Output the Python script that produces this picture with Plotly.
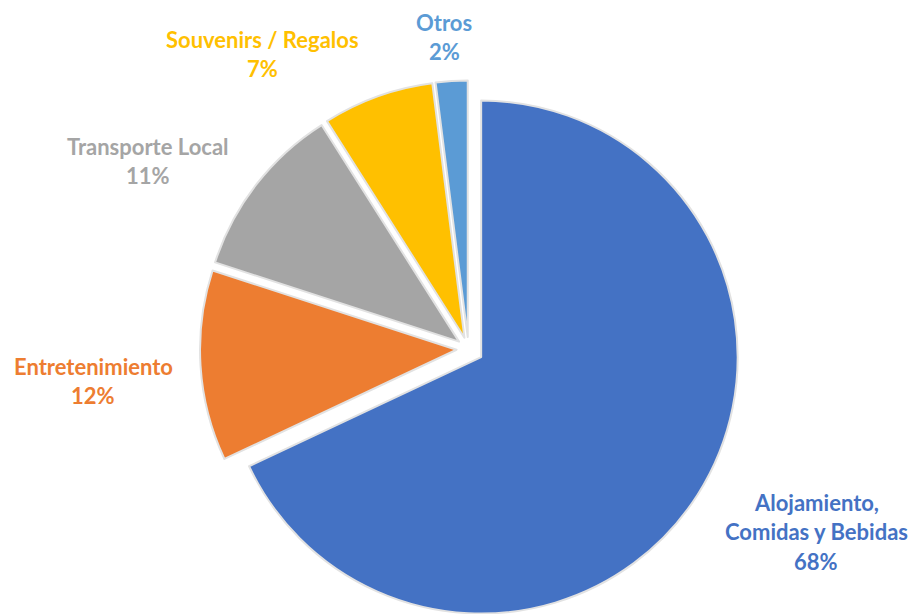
import math
import plotly.graph_objects as go

# Gasto del visitante por rubro (%)
categories = ["Alojamiento, Comidas y Bebidas", "Entretenimiento", "Transporte Local",
              "Souvenirs / Regalos", "Otros"]
values = [68, 12, 11, 7, 2]
label_lines = [["Alojamiento,", "Comidas y Bebidas"], ["Entretenimiento"], ["Transporte Local"],
               ["Souvenirs / Regalos"], ["Otros"]]
colors = ["#4472C4", "#ED7D31", "#A5A5A5", "#FFC000", "#5B9BD5"]

W, H = 912, 614
R = 256.5                # pie radius in px
BASE = (468.5, 349.0)    # common pie centre in px
explode = [15, 12, 12, 12, 12]   # per-slice pull-out distance in px

# label anchor points (px): first line centre and line pitch
label_pos = [(816, 502), (93, 366), (148, 146), (262, 39), (444, 22)]
LINE = 29.5

fig = go.Figure()
total = sum(values)
cum = 0.0
for i, v in enumerate(values):
    mid = (cum + v / 2) / total * 2 * math.pi   # clockwise from 12 o'clock
    cum += v
    cx = BASE[0] + explode[i] * math.sin(mid)
    cy = BASE[1] - explode[i] * math.cos(mid)
    x0, x1 = (cx - R) / W, (cx + R) / W
    y0, y1 = 1 - (cy + R) / H, 1 - (cy - R) / H
    fig.add_trace(go.Pie(
        labels=categories,
        values=values,
        sort=False,
        direction="clockwise",
        rotation=0,
        textinfo="none",
        hoverinfo="label+percent",
        showlegend=False,
        domain=dict(x=[max(0, x0), min(1, x1)], y=[max(0, y0), min(1, y1)]),
        marker=dict(
            colors=[colors[j] if j == i else "rgba(0,0,0,0)" for j in range(len(values))],
            line=dict(color=["#e2e2e2" if j == i else "rgba(0,0,0,0)" for j in range(len(values))],
                      width=[2 if j == i else 0 for j in range(len(values))]),
        ),
    ))

annotations = []
for i, v in enumerate(values):
    lx, ly = label_pos[i]
    lines = label_lines[i] + [f"{v}%"]
    for k, txt in enumerate(lines):
        annotations.append(dict(
            x=lx / W, y=1 - (ly + k * LINE) / H, xref="paper", yref="paper",
            text=f"<b>{txt}</b>", showarrow=False, xanchor="center", yanchor="middle",
            font=dict(family="Lato", size=22, color=colors[i]),
        ))

fig.update_layout(
    width=W, height=H,
    margin=dict(l=0, r=0, t=0, b=0),
    paper_bgcolor="white", plot_bgcolor="white",
    annotations=annotations,
)

fig.write_html("out.html")
